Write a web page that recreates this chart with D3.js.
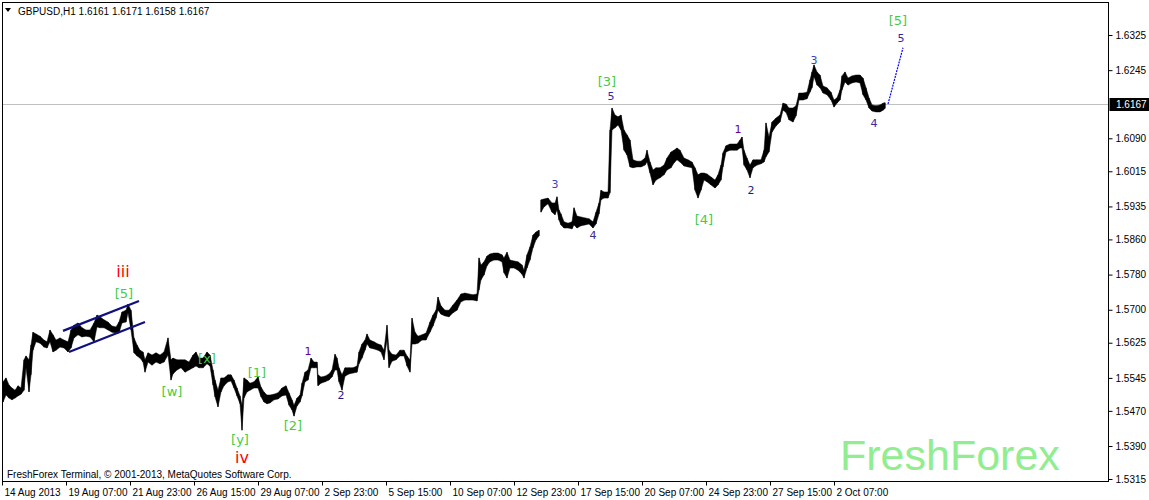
<!DOCTYPE html>
<html><head><meta charset="utf-8">
<script src="https://cdn.jsdelivr.net/npm/d3@7"></script>
<style>
body{margin:0;background:#fff}
svg{display:block}
text{font-family:"Liberation Sans",Arial,sans-serif}
</style>
</head><body>
<svg id="c" width="1149" height="500"></svg>
<script>
// ---------------- data ----------------
const symbolTitle = "GBPUSD,H1  1.6161 1.6171 1.6158 1.6167";
const lastPrice = 1.6167;
const lastPriceLabel = "1.6167";

// trading-hour index of each sampled bar (hours since first bar)
const hourIdx = [
1,4,7,10,13,16,19,22,24,27,
29,31,34,38,42,45,48,51,54,58,
62,66,69,72,76,80,84,88,92,95,
98,102,106,110,114,117,120,124,126,129,
132,135,138,141,143,146,150,154,158,162,
166,169,171,175,179,183,187,191,194,197,
201,205,208,211,213,216,219,222,226,229,
232,235,238,240,242,245,248,252,256,259,
262,265,268,272,276,280,284,287,290,292,
295,298,300,303,306,309,312,315,316,319,
323,327,330,333,335,337,340,343,347,351,
355,357,360,363,365,368,372,376,379,382,
385,387,390,394,398,402,405,408,410,413,
416,420,424,428,431,434,436,439,443,447,
451,455,459,463,467,471,475,477,479,482,
485,488,492,496,500,502,505,508,512,516,
520,522,525,528,531,534,537,539,542,546,
550,553,555,557,559,562,566,570,572,575,
579,583,587,591,594,597,599,602,606,608,
610,613,616,619,622,625,628,631,635,639,
643,645,648,651,654,658,662,665,669,672,
675,678,682,686,690,693,696,699,702,705,
709,713,716,719,721,724,728,732,735,738,
740,742,745,748,751,755,759,762,764,767,
770,774,778,781,784,787,791,794,797,801,
805,808,810,812,815,818,821,825,829,832,
835,838,840,843,846,850,854,858,861,864,
867,870,874,878,881,883];

const highs = [
1.5536,1.5545,1.5529,1.5522,1.5517,1.5527,1.5522,1.5586,1.5595,1.5586,
1.5620,1.5649,1.5645,1.5640,1.5631,1.5627,1.5654,1.5643,1.5631,1.5636,
1.5631,1.5627,1.5654,1.5665,1.5670,1.5659,1.5654,1.5654,1.5670,1.5688,
1.5684,1.5677,1.5672,1.5663,1.5661,1.5672,1.5695,1.5699,1.5713,1.5699,
1.5636,1.5620,1.5608,1.5604,1.5586,1.5602,1.5597,1.5602,1.5597,1.5604,
1.5636,1.5586,1.5590,1.5586,1.5586,1.5586,1.5581,1.5597,1.5604,1.5590,
1.5590,1.5604,1.5597,1.5563,1.5540,1.5517,1.5545,1.5545,1.5552,1.5552,
1.5540,1.5522,1.5504,1.5483,1.5545,1.5540,1.5533,1.5536,1.5547,1.5524,
1.5513,1.5506,1.5506,1.5508,1.5511,1.5522,1.5527,1.5511,1.5495,1.5483,
1.5499,1.5506,1.5533,1.5558,1.5563,1.5590,1.5581,1.5581,1.5552,1.5547,
1.5549,1.5554,1.5563,1.5599,1.5590,1.5568,1.5552,1.5568,1.5568,1.5568,
1.5572,1.5604,1.5622,1.5631,1.5645,1.5631,1.5627,1.5622,1.5620,1.5608,
1.5665,1.5608,1.5599,1.5597,1.5608,1.5608,1.5595,1.5586,1.5681,1.5649,
1.5640,1.5643,1.5647,1.5672,1.5688,1.5699,1.5729,1.5709,1.5699,1.5699,
1.5711,1.5722,1.5736,1.5738,1.5736,1.5734,1.5736,1.5818,1.5802,1.5809,
1.5822,1.5827,1.5829,1.5829,1.5825,1.5818,1.5831,1.5813,1.5811,1.5809,
1.5802,1.5790,1.5825,1.5843,1.5870,1.5877,1.5881,1.5950,1.5952,1.5954,
1.5943,1.5943,1.5957,1.5927,1.5918,1.5900,1.5897,1.5900,1.5932,1.5913,
1.5911,1.5909,1.5907,1.5900,1.5922,1.5943,1.5972,1.5968,1.5968,1.6109,
1.6159,1.6143,1.6139,1.6143,1.6109,1.6098,1.6086,1.6041,1.6038,1.6038,
1.6045,1.6063,1.6036,1.6018,1.6023,1.6023,1.6029,1.6045,1.6059,1.6063,
1.6068,1.6063,1.6045,1.6041,1.6036,1.6023,1.6007,1.6011,1.6011,1.6009,
1.6002,1.5995,1.6007,1.6029,1.6057,1.6073,1.6077,1.6077,1.6077,1.6086,
1.6093,1.6063,1.6045,1.6029,1.6041,1.6041,1.6041,1.6063,1.6125,1.6093,
1.6127,1.6136,1.6143,1.6170,1.6168,1.6159,1.6159,1.6164,1.6193,1.6193,
1.6195,1.6223,1.6241,1.6257,1.6241,1.6234,1.6209,1.6205,1.6195,1.6177,
1.6182,1.6200,1.6232,1.6241,1.6227,1.6232,1.6234,1.6234,1.6227,1.6205,
1.6182,1.6166,1.6164,1.6166,1.6170,1.6171];

const lows = [
1.5490,1.5506,1.5499,1.5495,1.5499,1.5504,1.5508,1.5517,1.5568,1.5513,
1.5552,1.5608,1.5627,1.5624,1.5615,1.5613,1.5627,1.5604,1.5608,1.5615,
1.5613,1.5604,1.5613,1.5636,1.5643,1.5638,1.5640,1.5638,1.5627,1.5661,
1.5659,1.5659,1.5654,1.5649,1.5647,1.5647,1.5670,1.5672,1.5693,1.5654,
1.5602,1.5595,1.5590,1.5581,1.5558,1.5581,1.5574,1.5581,1.5577,1.5581,
1.5597,1.5540,1.5554,1.5563,1.5568,1.5558,1.5563,1.5568,1.5572,1.5568,
1.5568,1.5577,1.5572,1.5529,1.5502,1.5479,1.5513,1.5527,1.5536,1.5538,
1.5522,1.5504,1.5486,1.5426,1.5499,1.5513,1.5517,1.5522,1.5522,1.5502,
1.5490,1.5486,1.5488,1.5495,1.5497,1.5504,1.5506,1.5483,1.5472,1.5458,
1.5481,1.5490,1.5504,1.5536,1.5540,1.5568,1.5568,1.5568,1.5527,1.5533,
1.5536,1.5540,1.5547,1.5563,1.5563,1.5536,1.5517,1.5549,1.5554,1.5556,
1.5558,1.5577,1.5590,1.5608,1.5622,1.5613,1.5611,1.5608,1.5604,1.5586,
1.5631,1.5568,1.5583,1.5586,1.5595,1.5595,1.5572,1.5558,1.5622,1.5622,
1.5624,1.5631,1.5631,1.5649,1.5663,1.5681,1.5699,1.5690,1.5686,1.5684,
1.5693,1.5699,1.5718,1.5722,1.5722,1.5722,1.5720,1.5745,1.5768,1.5779,
1.5800,1.5809,1.5813,1.5813,1.5809,1.5784,1.5772,1.5795,1.5795,1.5790,
1.5781,1.5772,1.5795,1.5813,1.5841,1.5859,1.5868,1.5922,1.5934,1.5941,
1.5922,1.5916,1.5927,1.5904,1.5893,1.5886,1.5886,1.5884,1.5893,1.5886,
1.5891,1.5893,1.5895,1.5886,1.5895,1.5918,1.5950,1.5954,1.5954,1.5966,
1.6109,1.6114,1.6120,1.6109,1.6063,1.6052,1.6025,1.6023,1.6025,1.6025,
1.6029,1.6036,1.6011,1.5984,1.5995,1.6000,1.6007,1.6018,1.6023,1.6034,
1.6041,1.6036,1.6027,1.6025,1.6023,1.5972,1.5954,1.5972,1.5995,1.5991,
1.5984,1.5977,1.5984,1.5995,1.6025,1.6059,1.6063,1.6063,1.6063,1.6068,
1.6068,1.6029,1.6018,1.6000,1.6023,1.6029,1.6032,1.6036,1.6048,1.6059,
1.6104,1.6118,1.6127,1.6154,1.6149,1.6132,1.6127,1.6141,1.6177,1.6177,
1.6180,1.6195,1.6205,1.6230,1.6211,1.6205,1.6193,1.6189,1.6177,1.6161,
1.6170,1.6177,1.6200,1.6218,1.6211,1.6216,1.6218,1.6216,1.6189,1.6177,
1.6159,1.6152,1.6150,1.6150,1.6154,1.6158];

// weekend gap (hour index after which the series breaks)
const sessionBreaks = [537];

const priceTicks = [1.6325,1.6245,1.6090,1.6015,1.5935,1.5860,1.5780,1.5700,1.5625,1.5545,1.5470,1.5390,1.5315];
const timeTickIdx = [0,64,128,192,256,320,384,448,512,576,640,704,768,832];
const timeTickLabels = ["14 Aug 2013","19 Aug 07:00","21 Aug 23:00","26 Aug 15:00","29 Aug 07:00","2 Sep 23:00","5 Sep 15:00","10 Sep 07:00","12 Sep 23:00","17 Sep 15:00","20 Sep 07:00","24 Sep 23:00","27 Sep 15:00","2 Oct 07:00"];

// trend channel and forecast (hour index, price)
const channelUpper = [[61,1.5652],[137,1.5720]];
const channelLower = [[67,1.5604],[143,1.5672]];
const forecastLine = [[886,1.6168],[901,1.6296]];

// wave labels: text, hour index, price, kind
const waveText  = ["iii","[5]","[w]","[x]","[y]","iv","[1]","[2]","1","2","3","4","[3]","5","[4]","1","2","3","4","[5]","5"];
const waveIdx   = [121,122,170,205,238,240,255,291,306,339,553,591,605,609,702,736,749,812,872,896,899];
const wavePrice = [1.5788,1.5738,1.5513,1.5590,1.5404,1.5363,1.5558,1.5436,1.5604,1.5506,1.5986,1.5870,1.6220,1.6184,1.5906,1.6109,1.5972,1.6268,1.6123,1.6359,1.6318];
const waveKind  = ["roman","bracket","bracket","bracket","bracket","roman","bracket","bracket","n1","n2","n3","n4","bracket","n5","bracket","n1","n2","n3","n4","bracket","n5"];

const copyrightText = "FreshForex Terminal, \u00a9 2001-2013, MetaQuotes Software Corp.";
const watermarkText = "FreshForex";

// ---------------- drawing ----------------
const svg = d3.select("#c");
const W = 1149, H = 500;
const plot = {l:2.5, r:1108.5, t:2.5, b:481.5};

const x = d3.scaleLinear().domain([0, 1106]).range([2, 1108]);
const y = d3.scaleLinear().domain([1.5315, 1.6325]).range([479, 35]);

svg.append("rect").attr("width",W).attr("height",H).attr("fill","#fff");

// watermark
svg.append("text").attr("x",840).attr("y",470)
  .attr("font-size",43).attr("fill","#90ee90")
  .style("font-family","'Liberation Sans',Arial,sans-serif")
  .text(watermarkText);

// current price line
svg.append("line")
  .attr("x1",plot.l).attr("x2",plot.r)
  .attr("y1",Math.round(y(lastPrice))+0.5).attr("y2",Math.round(y(lastPrice))+0.5)
  .attr("stroke","#c0c0c0").attr("stroke-width",1);

// price series as high-low band
const bars = hourIdx.map((h,i)=>({h, hi:highs[i], lo:lows[i]}));
const segments = [];
let cur = [];
bars.forEach(b=>{
  cur.push(b);
  if (sessionBreaks.includes(b.h)) { segments.push(cur); cur = []; }
});
if (cur.length) segments.push(cur);

const area = d3.area().x(d=>x(d.h)).y0(d=>y(d.lo)).y1(d=>y(d.hi)).curve(d3.curveLinear);
segments.forEach(seg=>{
  svg.append("path").datum(seg).attr("d",area)
    .attr("fill","#000").attr("stroke","#000").attr("stroke-width",0.5).attr("stroke-linejoin","miter");
});
// vertical high-low ticks for texture
svg.append("g").selectAll("line").data(bars).join("line")
  .attr("x1",d=>x(d.h)).attr("x2",d=>x(d.h))
  .attr("y1",d=>y(d.hi)).attr("y2",d=>y(d.lo))
  .attr("stroke","#000").attr("stroke-width",1);

// channel
const ln = d3.line().x(d=>x(d[0])).y(d=>y(d[1]));
[channelUpper, channelLower].forEach(c=>{
  svg.append("path").attr("d",ln(c)).attr("stroke","#101080").attr("stroke-width",2.2).attr("fill","none");
});
// forecast
svg.append("path").attr("d",ln(forecastLine)).attr("stroke","#0000ff").attr("stroke-width",1.2)
  .attr("stroke-dasharray","2,1").attr("fill","none");

// wave labels
const kindStyle = {
  roman:   {size:16, color:"#ff0000"},
  bracket: {size:13, color:"#44cc44"},
  n1:      {size:11, color:"#660099"},
  n2:      {size:11, color:"#1a1a8a"},
  n3:      {size:11, color:"#3344cc"},
  n4:      {size:11, color:"#3a2a99"},
  n5:      {size:11, color:"#2a2ab0"}
};
svg.append("g").selectAll("text").data(waveText.map((t,i)=>({t, h:waveIdx[i], p:wavePrice[i], k:waveKind[i]})))
  .join("text")
  .attr("x",d=>x(d.h)).attr("y",d=>y(d.p))
  .attr("text-anchor","middle").attr("dominant-baseline","central")
  .attr("font-size",d=>kindStyle[d.k].size)
  .attr("fill",d=>kindStyle[d.k].color)
  .style("font-family","'DejaVu Sans','Liberation Sans',sans-serif")
  .style("font-size",d=>kindStyle[d.k].size+"px")
  .text(d=>d.t);

// frame
svg.append("rect").attr("x",plot.l).attr("y",plot.t)
  .attr("width",plot.r-plot.l).attr("height",plot.b-plot.t)
  .attr("fill","none").attr("stroke","#000").attr("stroke-width",1);

// price axis
const yAxis = d3.axisRight(y).tickValues(priceTicks).tickFormat(d3.format(".4f")).tickSize(4).tickPadding(3);
const gy = svg.append("g").attr("transform",`translate(${plot.r},0)`).call(yAxis);
gy.select(".domain").remove();
gy.selectAll("line").attr("stroke","#000");
gy.selectAll("text").attr("font-size",10).attr("fill","#000")
  .style("font-family","'Liberation Sans',Arial,sans-serif");

// current price marker
const py = Math.round(y(lastPrice));
svg.append("rect").attr("x",plot.r+1).attr("y",py-6).attr("width",W-plot.r-1).attr("height",13).attr("fill","#000");
svg.append("text").attr("x",plot.r+7.5).attr("y",py+4).attr("font-size",10).attr("fill","#fff").text(lastPriceLabel);

// time axis
const xAxis = d3.axisBottom(x).tickValues(timeTickIdx).tickFormat((d,i)=>timeTickLabels[i]).tickSize(4).tickPadding(3);
const gx = svg.append("g").attr("transform",`translate(0,${plot.b})`).call(xAxis);
gx.select(".domain").remove();
gx.selectAll("line").attr("stroke","#000");
gx.selectAll("text").attr("text-anchor","start").attr("dx",2).attr("font-size",10).attr("fill","#000")
  .style("font-family","'Liberation Sans',Arial,sans-serif");

// title
svg.append("path").attr("d","M5,8 L11,8 L8,12 Z").attr("fill","#000");
svg.append("text").attr("x",18).attr("y",15).attr("font-size",10).attr("fill","#000").text(symbolTitle);

// copyright
svg.append("text").attr("x",7).attr("y",478).attr("font-size",10).attr("fill","#000").text(copyrightText);
</script>
</body></html>
